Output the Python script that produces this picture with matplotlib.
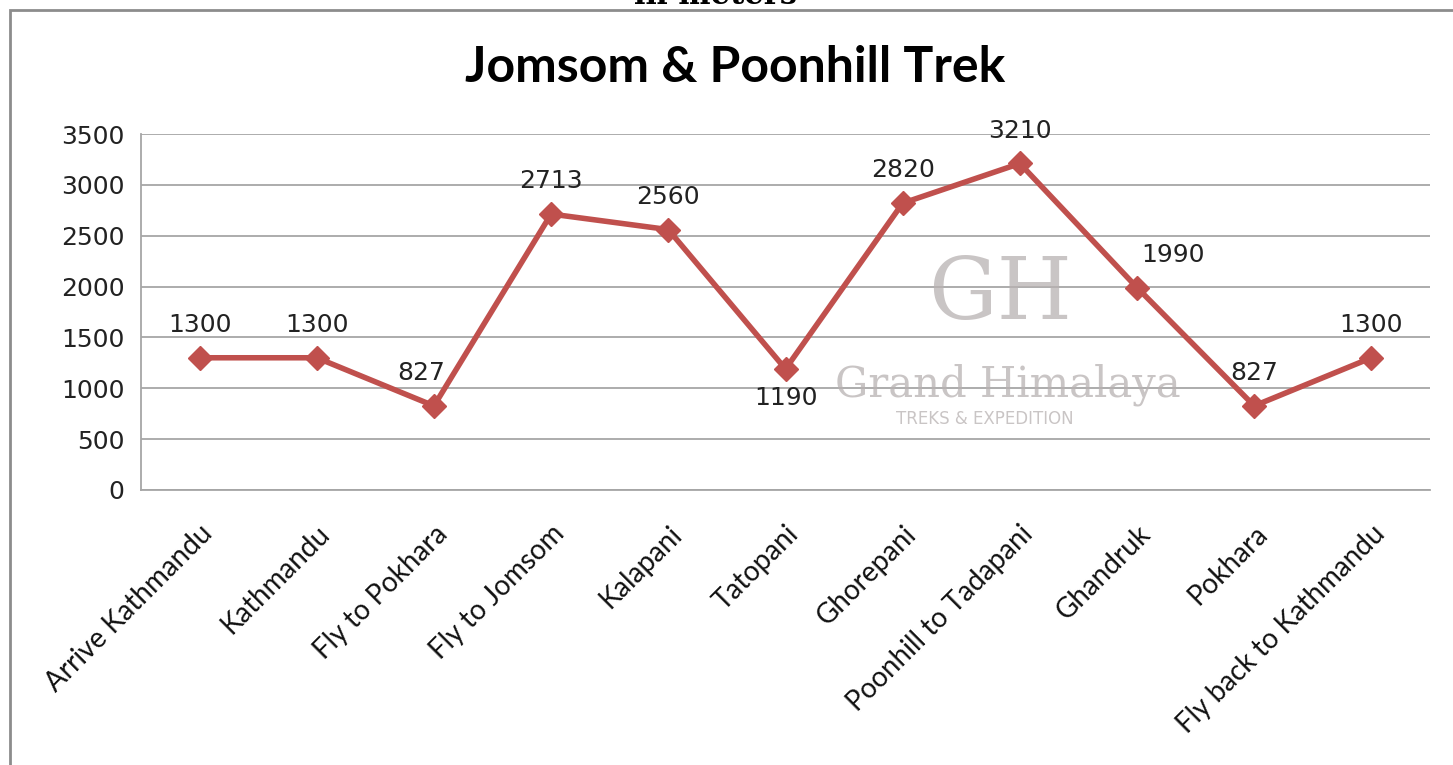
import matplotlib
matplotlib.use("Agg")
import matplotlib.pyplot as plt
from matplotlib.patches import Rectangle

categories = ["Arrive Kathmandu", "Kathmandu", "Fly to Pokhara", "Fly to Jomsom",
              "Kalapani", "Tatopani", "Ghorepani", "Poonhill to Tadapani",
              "Ghandruk", "Pokhara", "Fly back to Kathmandu"]
altitudes = [1300, 1300, 827, 2713, 2560, 1190, 2820, 3210, 1990, 827, 1300]
yticks = [0, 500, 1000, 1500, 2000, 2500, 3000, 3500]
title = "Jomsom & Poonhill Trek"

RED = "#C0504D"
GRID = "#a6a6a6"

fig = plt.figure(figsize=(14.53, 7.65), dpi=100)
ax = fig.add_axes([141/1453, 1-490/765, (1430-141)/1453, (490-134)/765])

x = list(range(len(categories)))
ax.plot(x, altitudes, color=RED, lw=4, marker="D", ms=12, mec=RED, mfc=RED, zorder=3)

ax.set_xlim(-0.5, len(categories)-0.5)
ax.set_ylim(0, 3500)
ax.set_yticks(yticks)
ax.set_yticklabels([str(v) for v in yticks], fontsize=18, family="DejaVu Sans", color="#222222")
ax.set_xticks(x)
ax.set_xticklabels(categories, rotation=45, ha="right", rotation_mode="anchor",
                   fontsize=20, family="Lato", color="#111111")
ax.tick_params(axis="both", length=0)
ax.tick_params(axis="y", pad=12)
ax.tick_params(axis="x", pad=22)
ax.yaxis.grid(True, color=GRID, lw=1.3)
ax.set_axisbelow(True)
for s in ["top", "right"]:
    ax.spines[s].set_visible(False)
for s in ["left", "bottom"]:
    ax.spines[s].set_color(GRID)
    ax.spines[s].set_linewidth(1.3)

# data labels
for i, v in enumerate(altitudes):
    dx, dy, va = 0, 15, "bottom"
    if v == 1190:
        dy, va = -12, "top"
    if v == 1990:
        dx = 26
    if i == 2:
        dx = -9
    ax.annotate(str(v), (i, v), xytext=(dx, dy), textcoords="offset points",
                ha="center", va=va, fontsize=18, family="DejaVu Sans", color="#222222", zorder=4)

# watermark
wm = "#b8b2b2"
fig.text(1000/1453, 1-295/765, "GH", fontsize=62, family="DejaVu Serif", color=wm,
         alpha=0.75, ha="center", va="center")
fig.text(1008/1453, 1-385/765, "Grand Himalaya", fontsize=30, family="DejaVu Serif", color=wm,
         alpha=0.75, ha="center", va="center")
fig.text(985/1453, 1-419/765, "TREKS & EXPEDITION", fontsize=12, family="DejaVu Sans", color=wm,
         alpha=0.75, ha="center", va="center")

fig.suptitle(title, x=735/1453, y=1-68/765, va="center", fontsize=36, fontweight="bold",
             family="Lato")

# partially visible caption at the very top (cut off in the original as well)
fig.text(715/1453, 1+4/765, "in meters", fontsize=22, fontweight="bold", family="DejaVu Serif",
         ha="center", va="center")

# outer frame
fig.patches.append(Rectangle((10/1453, -0.05), 1.1, 1-10/765+0.05, transform=fig.transFigure,
                             fill=False, ec="#8c8c8c", lw=2))

fig.savefig("out.png", dpi=100)
